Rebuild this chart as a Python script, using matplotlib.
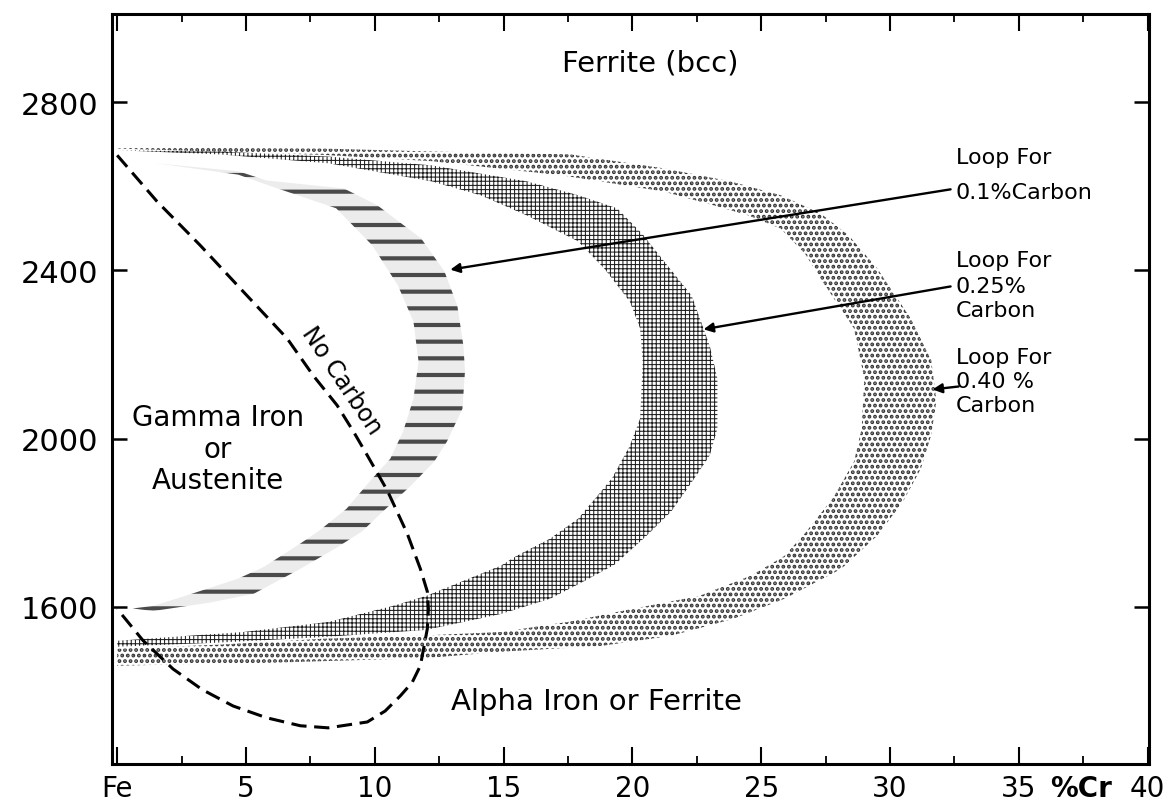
import matplotlib
matplotlib.use("Agg")
import matplotlib.pyplot as plt

plt.rcParams['font.family'] = ['DejaVu Sans']
plt.rcParams['lines.scale_dashes'] = False

# ---------------- axis data ----------------
x_ticks = [0, 5, 10, 15, 20, 25, 30, 35, 40]
x_tick_labels = ['Fe', '5', '10', '15', '20', '25', '30', '35', '40']
x_minor_ticks = [2.5, 7.5, 12.5, 17.5, 22.5, 27.5, 32.5, 37.5]
y_ticks = [1600, 2000, 2400, 2800]
y_tick_labels = ['1600', '2000', '2400', '2800']

# ---------------- "No Carbon" gamma loop (dashed) ----------------
nocarbon_cr = [0.0, 1.55, 3.22, 4.89, 6.60, 7.61, 8.54, 9.17, 9.71, 10.49, 11.26,
               11.77, 12.04, 12.08, 12.04, 11.77, 11.45, 10.99, 10.40, 9.71, 8.19, 7.11,
               5.80, 4.50, 3.30, 2.17, 1.00, 0.0]
nocarbon_T = [2674, 2564, 2460, 2350, 2238, 2150, 2079, 2017, 1960, 1876, 1774,
              1690, 1636, 1595, 1548, 1460, 1420, 1388, 1352, 1326, 1312, 1317,
              1336, 1364, 1403, 1452, 1520, 1595]

# ---------------- Loop for 0.1 % carbon ----------------
loop010_outer_cr = [1.5, 4.7, 5.8, 8.8, 10.1, 11.8, 12.7, 13.2, 13.44, 13.5, 13.4, 12.8,
                    12.3, 11.4, 10.3, 9.5, 8.5, 7.1, 5.3, 3.6, 1.4, 0.6]
loop010_outer_T = [2655, 2636, 2614, 2595, 2555, 2476, 2398, 2317, 2221, 2160, 2071, 1993,
                   1945, 1888, 1826, 1779, 1740, 1690, 1631, 1610, 1590, 1596]
loop010_inner_cr = [1.5, 4.7, 5.9, 8.5, 9.9, 10.9, 11.5, 11.7, 11.5, 11.1, 10.6, 9.9,
                    8.9, 7.8, 7.1, 5.7, 4.7, 3.0, 1.4, 0.6]
loop010_inner_T = [2655, 2628, 2602, 2548, 2460, 2364, 2279, 2183, 2095, 2017, 1952, 1905,
                   1833, 1779, 1750, 1695, 1667, 1633, 1602, 1596]

# ---------------- Loop for 0.25 % carbon ----------------
loop025_outer_cr = [0.0, 4.0, 8.2, 12.2, 15.9, 17.9, 19.4, 20.4, 21.2, 22.3, 23.0, 23.3,
                    23.3, 23.0, 22.4, 21.5, 20.5, 19.3, 18.1, 16.8, 14.9, 12.0, 8.0, 4.0, 0.0]
loop025_outer_T = [2686, 2683, 2671, 2650, 2612, 2579, 2548, 2486, 2424, 2340, 2221, 2143,
                   2024, 1960, 1905, 1826, 1766, 1700, 1660, 1619, 1583, 1545, 1528, 1515, 1505]
loop025_inner_cr = [0.0, 4.0, 8.2, 12.2, 14.1, 15.9, 17.9, 18.9, 19.9, 20.3, 20.4, 20.3,
                    19.9, 19.2, 17.9, 16.8, 15.5, 14.9, 12.0, 10.7, 8.2, 4.9, 2.3, 0.0]
loop025_inner_T = [2686, 2676, 2655, 2612, 2579, 2531, 2469, 2405, 2326, 2262, 2183, 2048,
                   1983, 1905, 1810, 1762, 1721, 1698, 1626, 1602, 1564, 1540, 1529, 1519]

# ---------------- Loop for 0.40 % carbon ----------------
loop040_outer_cr = [0.0, 8.0, 12.2, 17.6, 21.2, 23.8, 25.75, 27.3, 28.4, 29.5, 30.8, 31.6,
                    31.8, 31.6, 31.2, 30.5, 29.5, 28.1, 25.9, 23.9, 21.5, 18.8, 14.9, 12.0, 6.0, 0.0]
loop040_outer_T = [2693, 2690, 2683, 2676, 2643, 2612, 2579, 2536, 2483, 2405, 2286, 2186,
                   2090, 2009, 1929, 1850, 1769, 1690, 1619, 1571, 1531, 1507, 1493, 1478, 1467, 1460]
loop040_inner_cr = [0.0, 8.0, 12.2, 17.3, 21.2, 23.15, 24.5, 25.75, 26.7, 27.3, 28.6, 29.0,
                    28.9, 28.6, 27.8, 26.7, 25.9, 24.6, 22.6, 20.0, 17.5, 14.9, 12.0, 8.0, 4.0, 0.0]
loop040_inner_T = [2690, 2675, 2660, 2626, 2588, 2555, 2531, 2500, 2440, 2381, 2262, 2143,
                   2024, 1945, 1860, 1775, 1721, 1674, 1626, 1595, 1564, 1540, 1532, 1524, 1510, 1500]

# ---------------- annotation arrows (start -> tip) ----------------
arrow_starts = [(32.35, 2593), (32.35, 2362), (32.66, 2124)]
arrow_tips = [(12.93, 2402), (22.76, 2260), (31.65, 2117)]

fig = plt.figure(figsize=(11.73, 8.04), dpi=100)
ax = fig.add_axes([0.0955, 0.0485, 0.884, 0.9328])
ax.set_xlim(-0.2, 40.05)
ax.set_ylim(1226, 3010)


def band(ox, oT, ix, iT, hatch, color, hlw, face='none'):
    px = list(ox) + list(ix)[::-1]
    pT = list(oT) + list(iT)[::-1]
    with plt.rc_context({'hatch.linewidth': hlw, 'hatch.color': color}):
        polys = ax.fill(px, pT, facecolor=face, edgecolor=color,
                        hatch=hatch, linewidth=0)
    for p in polys:
        if hasattr(p, 'set_hatch_linewidth'):
            p.set_hatch_linewidth(hlw)
    return polys


band(loop040_outer_cr, loop040_outer_T, loop040_inner_cr, loop040_inner_T,
     '...', '#333333', 1.9)
band(loop025_outer_cr, loop025_outer_T, loop025_inner_cr, loop025_inner_T,
     '++++', '#1e1e1e', 0.75)
band(loop010_outer_cr, loop010_outer_T, loop010_inner_cr, loop010_inner_T,
     '-', '#4a4a4a', 3.0, face='#ececec')

ax.plot(nocarbon_cr, nocarbon_T, color='black', lw=2.2, dashes=(11, 5.5),
        dash_capstyle='butt')

for (sx, sT), (tx, tT) in zip(arrow_starts, arrow_tips):
    ax.annotate('', xy=(tx, tT), xytext=(sx, sT),
                arrowprops=dict(arrowstyle='-|>', color='black', lw=1.7,
                                mutation_scale=14, shrinkA=0, shrinkB=0))

# ---------------- text labels ----------------
ax.text(20.7, 2895, 'Ferrite (bcc)', fontsize=21, ha='center', va='center')
ax.text(3.9, 1976, 'Gamma Iron\nor\nAustenite', fontsize=20, ha='center',
        va='center', linespacing=1.15)
ax.text(18.6, 1376, 'Alpha Iron or Ferrite', fontsize=21, ha='center', va='center')
ax.text(8.7, 2140, 'No Carbon', fontsize=17, ha='center', va='center',
        rotation=-56, rotation_mode='anchor')

right_lines = [('Loop For', 2669), ('0.1%Carbon', 2586),
               ('Loop For', 2426), ('0.25%', 2364), ('Carbon', 2305),
               ('Loop For', 2195), ('0.40 %', 2136), ('Carbon', 2079)]
for txt, T in right_lines:
    ax.text(32.55, T, txt, fontsize=16, ha='left', va='center')

# ---------------- axes styling ----------------
for s in ax.spines.values():
    s.set_linewidth(2.2)
    s.set_color('black')

ax.set_xticks(x_ticks)
ax.set_xticklabels(x_tick_labels)
ax.set_xticks(x_minor_ticks, minor=True)
ax.set_yticks(y_ticks)
ax.set_yticklabels(y_tick_labels)
ax.tick_params(axis='x', which='major', direction='in', length=12, width=1.5,
               top=True, bottom=True, labelsize=20, pad=7)
ax.tick_params(axis='x', which='minor', direction='in', length=6, width=1.3,
               top=True, bottom=True)
ax.tick_params(axis='y', which='major', direction='in', length=11, width=1.8,
               left=True, right=True, labelsize=22, pad=10)

ax.annotate('%Cr', xy=(37.4, 0), xycoords=('data', 'axes fraction'),
            xytext=(0, -7), textcoords='offset points', ha='center', va='top',
            fontsize=20, fontweight='bold')

fig.savefig('out.png', dpi=100)
